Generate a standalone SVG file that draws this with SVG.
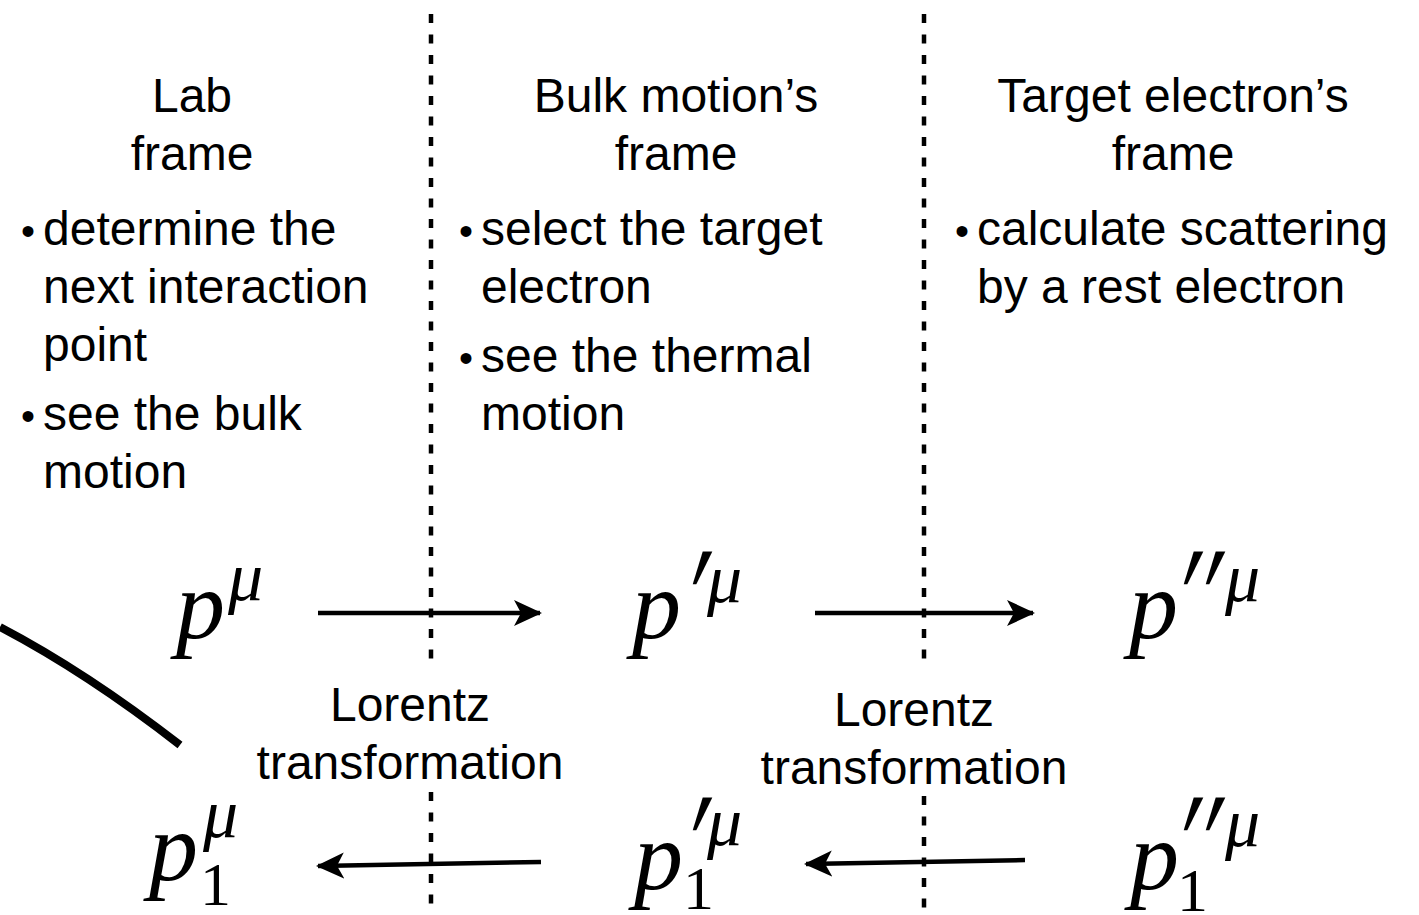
<svg xmlns="http://www.w3.org/2000/svg" width="1419" height="915" viewBox="0 0 1419 915">
<style>
.t{font-family:"Liberation Sans",Arial,sans-serif;font-size:48px;fill:#000}
.c{text-anchor:middle}
.b{font-family:"Liberation Sans",Arial,sans-serif;font-size:40px;fill:#000}
.m{font-family:"Liberation Serif","Times New Roman",serif;font-style:italic;fill:#000}
.p{font-size:98px}
.s{font-size:70px}
.pr{font-family:"Liberation Serif","Times New Roman",serif;font-style:italic;font-size:100px;fill:#000}
.n{font-family:"Liberation Serif","Times New Roman",serif;font-size:62px;fill:#000}
.dash{stroke:#000;stroke-width:4.5;stroke-dasharray:9 11.5;fill:none}
.arr{stroke:#000;stroke-width:4.5;fill:none;marker-end:url(#ah)}
</style>
<defs>
<marker id="ah" markerUnits="userSpaceOnUse" markerWidth="34" markerHeight="34" refX="26" refY="14" orient="auto">
<path d="M0,1 L28,14 L0,27 L7,14 Z" fill="#000"/>
</marker>
</defs>
<g id="dividers">
<line class="dash" x1="431" y1="14" x2="431" y2="668"/>
<line class="dash" x1="431" y1="792" x2="431" y2="915"/>
<line class="dash" x1="924" y1="14" x2="924" y2="668"/>
<line class="dash" x1="924" y1="796" x2="924" y2="915"/>
</g>
<g id="lab-frame">
<text class="t c" x="192" y="112">Lab</text>
<text class="t c" x="192" y="170">frame</text>
<text class="b" x="21" y="245">•</text>
<text class="t" x="43" y="245">determine the</text>
<text class="t" x="43" y="303">next interaction</text>
<text class="t" x="43" y="361">point</text>
<text class="b" x="21" y="430">•</text>
<text class="t" x="43" y="430">see the bulk</text>
<text class="t" x="43" y="488">motion</text>
</g>
<g id="bulk-frame">
<text class="t c" x="676" y="112">Bulk motion’s</text>
<text class="t c" x="676" y="170">frame</text>
<text class="b" x="459" y="245">•</text>
<text class="t" x="481" y="245">select the target</text>
<text class="t" x="481" y="303">electron</text>
<text class="b" x="459" y="372">•</text>
<text class="t" x="481" y="372">see the thermal</text>
<text class="t" x="481" y="430">motion</text>
</g>
<g id="target-frame">
<text class="t c" x="1173" y="112">Target electron’s</text>
<text class="t c" x="1173" y="170">frame</text>
<text class="b" x="955" y="245">•</text>
<text class="t" x="977" y="245">calculate scattering</text>
<text class="t" x="977" y="303">by a rest electron</text>
</g>
<g id="p-mu">
<text class="m p" x="176" y="638">p</text>
<text class="m s" x="228" y="600">μ</text>
</g>
<g id="p-prime-mu">
<text class="m p" x="632" y="638">p</text>
<text class="pr" transform="translate(665,643) skewX(-15) scale(1,1.4)">'</text>
<text class="m s" x="707" y="602">μ</text>
</g>
<g id="p-dprime-mu">
<text class="m p" x="1129" y="638">p</text>
<text class="pr" transform="translate(1156,643) skewX(-15) scale(1,1.4)">'</text>
<text class="pr" transform="translate(1178,643) skewX(-15) scale(1,1.4)">'</text>
<text class="m s" x="1225" y="601">μ</text>
</g>
<g id="p1-mu">
<text class="m p" x="149" y="880">p</text>
<text class="m s" x="203" y="837">μ</text>
<text class="n" x="200" y="905">1</text>
</g>
<g id="p1-prime-mu">
<text class="m p" x="634" y="889">p</text>
<text class="pr" transform="translate(665,889) skewX(-15) scale(1,1.4)">'</text>
<text class="m s" x="707" y="845">μ</text>
<text class="n" x="683" y="909">1</text>
</g>
<g id="p1-dprime-mu">
<text class="m p" x="1130" y="889">p</text>
<text class="pr" transform="translate(1156,889) skewX(-15) scale(1,1.4)">'</text>
<text class="pr" transform="translate(1178,889) skewX(-15) scale(1,1.4)">'</text>
<text class="m s" x="1225" y="846">μ</text>
<text class="n" x="1177" y="911">1</text>
</g>
<g id="lorentz-left">
<text class="t c" x="410" y="721">Lorentz</text>
<text class="t c" x="410" y="779">transformation</text>
</g>
<g id="lorentz-right">
<text class="t c" x="914" y="726">Lorentz</text>
<text class="t c" x="914" y="784">transformation</text>
</g>
<g id="connectors">
<line class="arr" x1="318" y1="613" x2="540" y2="613"/>
<line class="arr" x1="815" y1="613" x2="1033" y2="613"/>
<line class="arr" x1="541" y1="862" x2="318" y2="866"/>
<line class="arr" x1="1025" y1="860" x2="806" y2="864"/>
<path d="M0,627 Q86,672 180,745" stroke="#000" stroke-width="8" fill="none"/>
</g>
</svg>
